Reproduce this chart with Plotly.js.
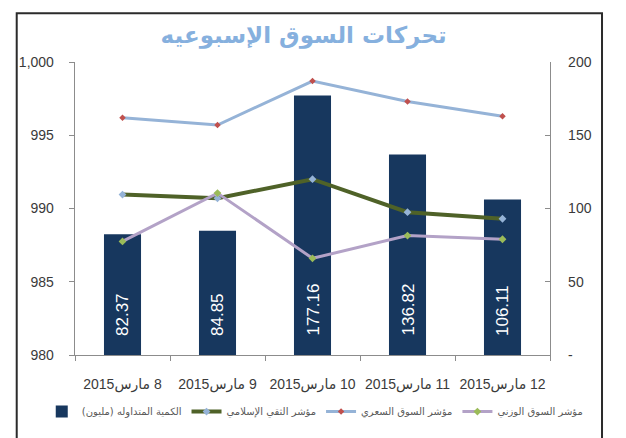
<!DOCTYPE html>
<html>
<head>
<meta charset="utf-8">
<script src="https://cdn.plot.ly/plotly-3.0.1.min.js"></script>
<style>
html,body{margin:0;padding:0;background:#fff;}
#chart{width:626px;height:438px;}
#chart .xtick text{direction:rtl;unicode-bidi:embed;}
</style>
</head>
<body>
<div id="chart"></div>
<script>
// ---- data ----
const dates = ['8 مارس2015', '9 مارس2015', '10 مارس2015', '11 مارس2015', '12 مارس2015'];
const volume = [82.37, 84.85, 177.16, 136.82, 106.11];            // right axis (million)
const priceIndex = [996.2, 995.7, 998.7, 997.3, 996.3];           // left axis
const islamicIndex = [990.95, 990.7, 992.0, 989.75, 989.3];       // left axis
const weightedIndex = [987.75, 991.05, 986.6, 988.15, 987.9];     // left axis
const leftTicks = [980, 985, 990, 995, 1000];
const leftTickText = ['980', '985', '990', '995', '1,000'];
const rightTicks = [0, 50, 100, 150, 200];
const rightTickText = ['-', '50', '100', '150', '200'];
const names = ['الكمية المتداوله (مليون)', 'مؤشر الثقي الإسلامي', 'مؤشر السوق السعري', 'مؤشر السوق الوزني'];
const titleText = 'تحركات السوق الإسبوعيه';

const RLM = '\u200F';
const x = dates.map(d => RLM + d);
const rtl = s => RLM + s + RLM;

// bars on the primary (right-side) axis so the index lines on the overlaying axis draw on top
const traces = [
  {type: 'bar', x: x, y: volume, yaxis: 'y', name: rtl(names[0]),
   marker: {color: '#17375e'}, hoverinfo: 'y'},
  {type: 'scatter', mode: 'lines+markers', x: x, y: islamicIndex, yaxis: 'y2', name: rtl(names[1]),
   line: {color: '#4f6228', width: 4}, marker: {color: '#95b3d7', size: 6, symbol: 'diamond'}},
  {type: 'scatter', mode: 'lines+markers', x: x, y: priceIndex, yaxis: 'y2', name: rtl(names[2]),
   line: {color: '#95b3d7', width: 3}, marker: {color: '#c0504d', size: 5, symbol: 'diamond'}},
  {type: 'scatter', mode: 'lines+markers', x: x, y: weightedIndex, yaxis: 'y2', name: rtl(names[3]),
   line: {color: '#b3a2c7', width: 3}, marker: {color: '#9bbb59', size: 6, symbol: 'diamond'}}
];

const annotations = volume.map((v, i) => ({
  x: x[i], y: 0, xref: 'x', yref: 'y', text: v.toFixed(2), showarrow: false,
  textangle: -90, yanchor: 'bottom', xanchor: 'center', yshift: 17,
  font: {family: 'Liberation Sans, Arial, sans-serif', size: 17, color: '#ffffff'}
}));

const axisFont = {family: 'Liberation Sans, Arial, DejaVu Sans, sans-serif', size: 14, color: '#3a3a3a'};

const layout = {
  width: 626, height: 438,
  margin: {l: 75, r: 76, t: 62, b: 76, pad: 0},
  paper_bgcolor: '#ffffff', plot_bgcolor: '#ffffff',
  showlegend: true,
  title: {text: titleText, x: 0.485, xanchor: 'center', y: 0.92, yanchor: 'middle',
          font: {family: 'DejaVu Sans, sans-serif', size: 23, color: '#86b0de', weight: 'bold'}},
  bargap: 0.61,
  xaxis: {type: 'category', showgrid: false, zeroline: false, showline: true, linecolor: '#8c8c8c', linewidth: 1.3,
          ticks: 'outside', tickson: 'boundaries', ticklen: 5, tickcolor: '#8c8c8c', tickangle: 0, automargin: false,
          tickfont: axisFont, ticklabelstandoff: 16, fixedrange: true},
  yaxis: {range: [0, 200], tickvals: rightTicks, ticktext: rightTickText, side: 'right', automargin: false,
          showgrid: false, zeroline: false, showline: true, linecolor: '#8c8c8c', linewidth: 1.3,
          ticks: 'inside', ticklen: 5, tickcolor: '#8c8c8c', tickfont: axisFont, ticklabelstandoff: 14},
  yaxis2: {range: [980, 1000], tickvals: leftTicks, ticktext: leftTickText, overlaying: 'y', side: 'left',
           showgrid: false, zeroline: false, automargin: false,
           showline: true, linecolor: '#8c8c8c', linewidth: 1.3, ticks: 'outside', ticklen: 5, tickcolor: '#8c8c8c',
           tickfont: axisFont, ticklabelstandoff: 12},
  legend: {orientation: 'h', x: -0.07, xanchor: 'left', y: -0.193, yanchor: 'middle',
           font: {family: 'DejaVu Sans, sans-serif', size: 10, color: '#595959'},
           itemwidth: 30, tracegroupgap: 0, bgcolor: 'rgba(0,0,0,0)'},
  annotations: annotations,
  shapes: [{type: 'rect', xref: 'paper', yref: 'paper', x0: -0.1227, x1: 1.1095, y0: -0.3, y1: 1.1667,
            line: {color: '#2b2b2b', width: 2}, fillcolor: 'rgba(0,0,0,0)', layer: 'below'}]
};

Plotly.newPlot('chart', traces, layout, {displayModeBar: false, staticPlot: true});
</script>
</body>
</html>
